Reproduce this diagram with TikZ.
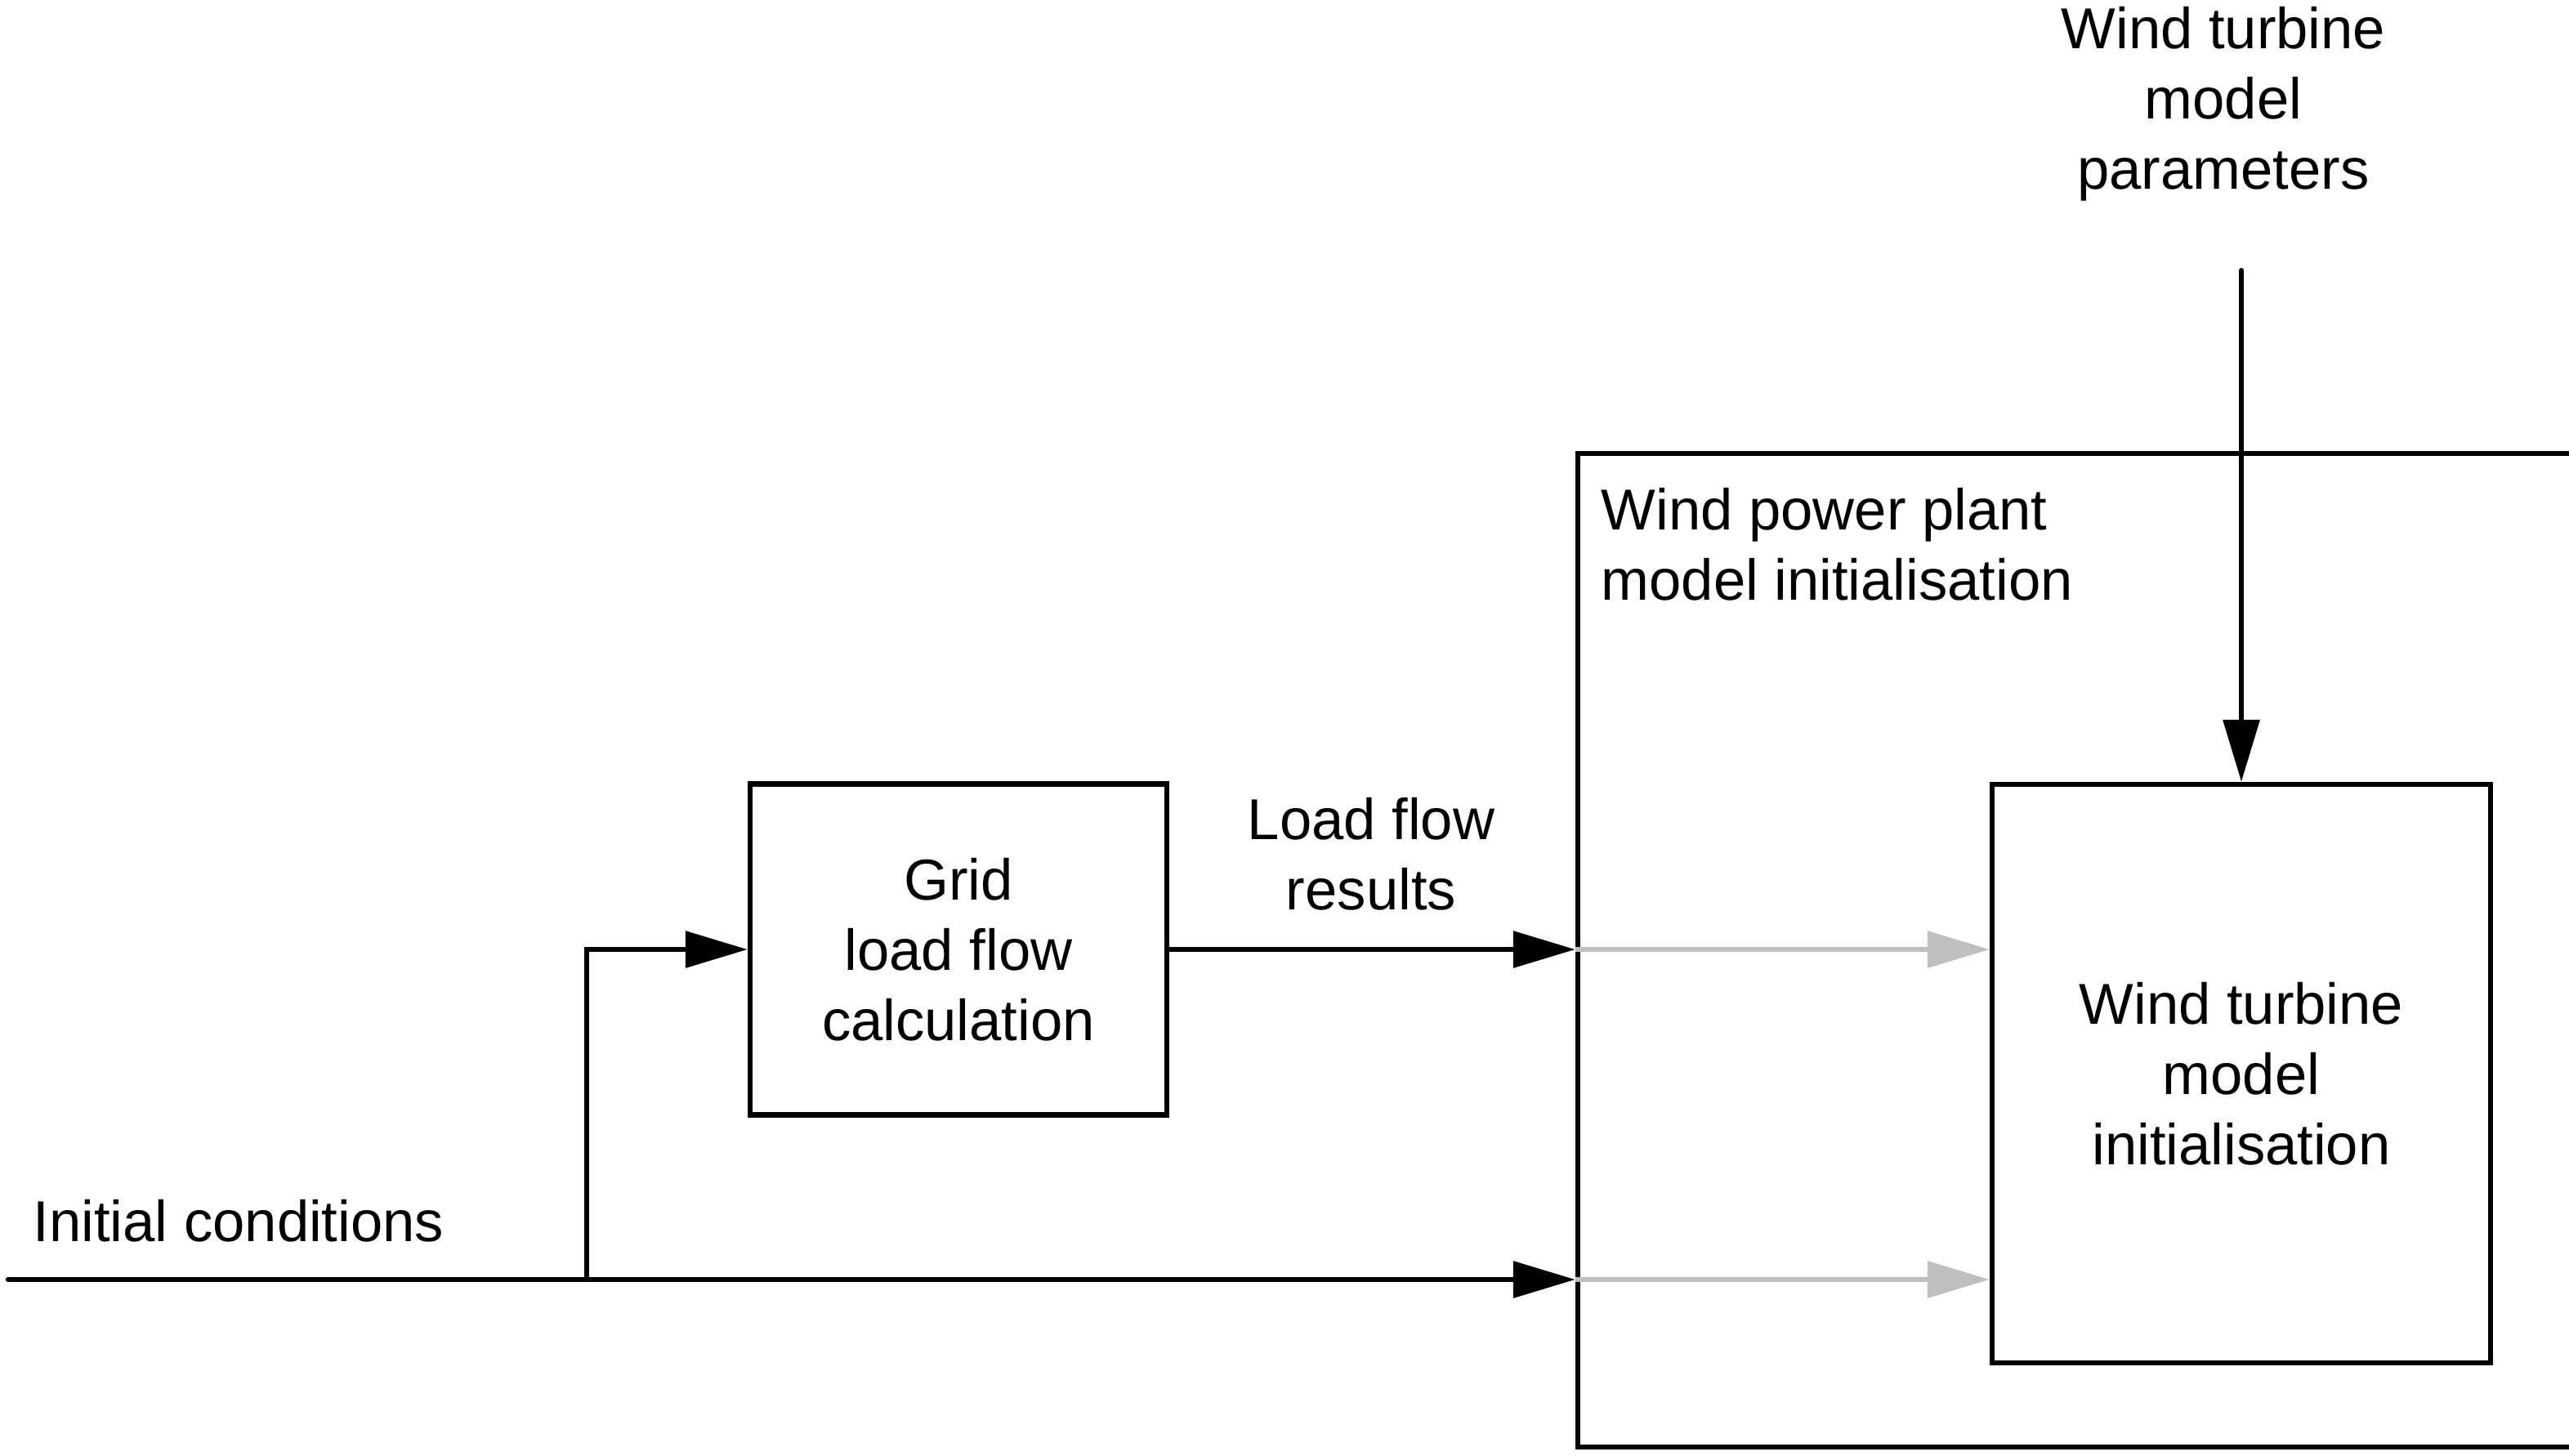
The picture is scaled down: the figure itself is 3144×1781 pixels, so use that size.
\documentclass[tikz,border=0pt]{standalone}
\usepackage{fontspec}
\setmainfont{Liberation Sans}
\usetikzlibrary{arrows.meta}
\begin{document}
\begin{tikzpicture}[x=0.1mm,y=-0.1mm,
  lbl/.style={font=\fontsize{20.1pt}{24.5pt}\selectfont, inner sep=0pt},
  blk/.style={draw, line width=1.8pt, rectangle, inner sep=0pt},
  arr/.style={line width=1.8pt, -{Triangle[length=7.6mm,width=4.4mm]}},
  garr/.style={line width=1.8pt, draw=black!25, -{Triangle[length=7.6mm,width=4.4mm,fill=black!25]}}]
\useasboundingbox (0,0) rectangle (3144,1781);
\clip (0,0) rectangle (3144,1781);
% blocks
\node[blk, minimum width=146.9mm, minimum height=121.6mm] (wpp) at (2665.5,1163) {};
\node[blk, minimum width=51mm, minimum height=40.5mm, lbl, align=center] (grid) at (1173,1162)
  {Grid\\load flow\\calculation};
\node[blk, minimum width=61mm, minimum height=70.8mm, lbl, align=center, fill=white] (wt) at (2743,1314)
  {Wind turbine\\model\\initialisation};
% labels
\node[lbl, align=left, anchor=west] (wpplbl) at (1959,666) {Wind power plant\\model initialisation};
\node[lbl, align=center] (par) at (2721,127) {Wind turbine\\model\\parameters};
\node[lbl, align=center] (lfr) at (1678,1045) {Load flow\\results};
\node[lbl, anchor=west] (ic) at (40,1494) {Initial conditions};
% connectors
\coordinate (in) at (10,1566);
\coordinate (br) at (718,1566);
\coordinate (ptop) at (2743,331);
\draw[line width=1.8pt, line cap=round] (in) -- (br);
\draw[arr] (br) -- (in -| wpp.west);
\draw[arr] (br) |- (grid.west);
\draw[arr] (grid.east) -- (grid.east -| wpp.west);
\draw[garr] (grid.east -| wpp.west) -- (grid.east -| wt.west);
\draw[garr] (in -| wpp.west) -- (in -| wt.west);
\draw[arr, line cap=round] (ptop) -- (wt.north);
\end{tikzpicture}
\end{document}
